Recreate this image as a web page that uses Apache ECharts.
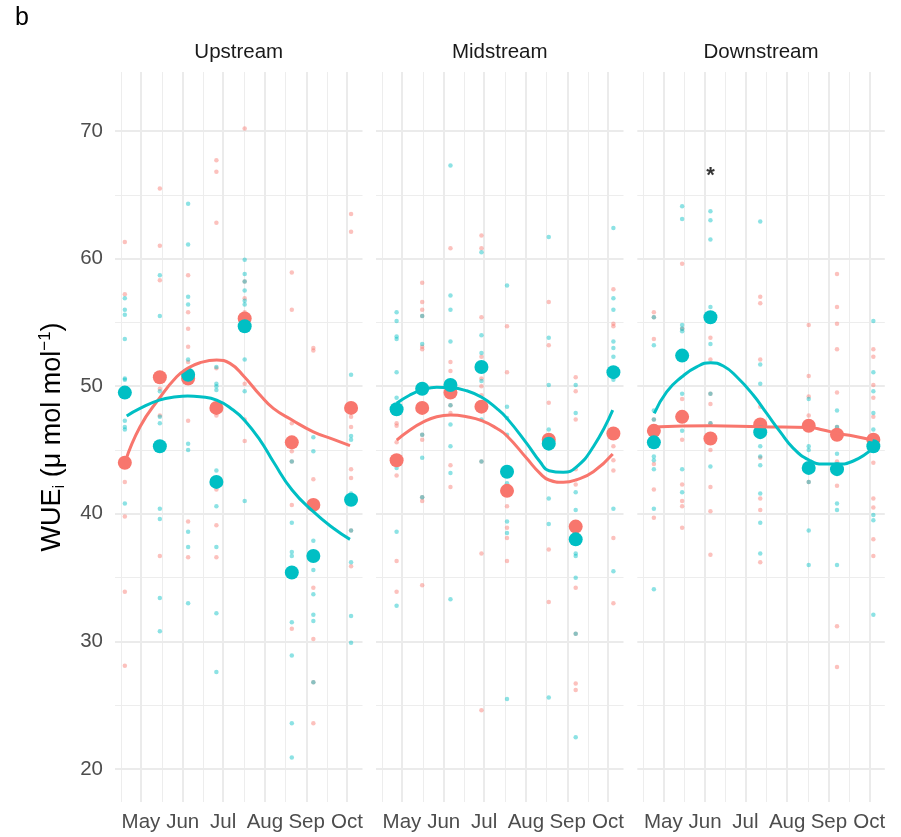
<!DOCTYPE html>
<html>
<head>
<meta charset="utf-8">
<script src="https://cdn.jsdelivr.net/npm/echarts@6/dist/echarts.min.js"></script>
<style>
html,body{margin:0;padding:0;background:#fff;}
#chart{width:901px;height:837px;}
</style>
</head>
<body>
<div id="chart"></div>
<script>
// ---------- axis / tick data (day of year) ----------
const monthTickDays = [121, 152, 182, 213, 244, 274];
const monthTickLabels = ['May', 'Jun', 'Jul', 'Aug', 'Sep', 'Oct'];
const minorTickDays = [106, 136.5, 167, 197.5, 228.5, 259];
const yTickValues = [20, 30, 40, 50, 60, 70];
const yMinorValues = [25, 35, 45, 55, 65];
const facetNames = ['Upstream', 'Midstream', 'Downstream'];
const panelLabel = 'b';

// ---------- Upstream ----------
const upDates = [109, 135, 156, 177, 198, 233, 249, 277];
const upMeanRed = [44.0, 50.7, 50.6, 48.3, 55.3, 45.6, 40.7, 48.3];
const upMeanTeal = [49.5, 45.3, 50.9, 42.5, 54.7, 35.4, 36.7, 41.1];
const upRawRed = [
  [61.3, 57.2, 42.5, 39.8, 33.9, 28.1],
  [65.5, 61.0, 58.3, 49.8, 47.7, 36.7],
  [58.7, 55.8, 54.5, 53.1, 51.9, 47.3, 39.4, 36.6],
  [67.7, 66.8, 62.8, 51.4, 47.7, 41.9, 39.1, 36.6],
  [70.2, 58.2, 56.9, 55.8, 50.2, 47.4, 45.7],
  [58.9, 56.0, 47.1, 44.9, 44.1, 40.7, 31.0],
  [53.0, 52.8, 42.7, 34.2, 30.2, 26.8, 23.6],
  [63.5, 62.1, 47.6, 46.8, 43.5, 42.8, 38.7, 35.9]
];
const upRawTeal = [
  [56.9, 56.0, 55.6, 53.7, 50.6, 50.5, 47.3, 46.8, 46.6, 40.8],
  [58.7, 55.5, 49.6, 47.6, 47.1, 40.4, 39.6, 33.4, 30.8],
  [64.3, 61.1, 57.0, 56.4, 52.1, 45.5, 45.0, 38.6, 37.4, 33.0],
  [51.5, 50.2, 50.0, 49.7, 43.4, 40.6, 37.4, 32.2, 27.6],
  [59.9, 58.8, 58.2, 57.5, 56.7, 56.4, 52.1, 49.6, 41.0],
  [44.1, 39.3, 37.0, 36.7, 31.5, 28.9, 23.6, 20.9],
  [46.0, 44.9, 37.9, 35.6, 33.7, 32.1, 31.6, 26.8],
  [50.9, 46.1, 45.8, 41.6, 38.7, 36.2, 32.0, 29.9]
];
const upFitRedDays = [109.3, 120.3, 134.6, 147.5, 155.7, 164.8, 177.2, 187.1, 197.7, 209.4, 219.3, 233.2, 249.0, 263.9, 276.2];
const upFitRed = [44.08, 46.82, 49.05, 50.74, 51.40, 51.84, 52.05, 51.79, 50.74, 49.31, 48.26, 47.35, 46.43, 45.84, 45.34];
const upFitTealDays = [110.4, 120.3, 134.6, 147.5, 155.7, 164.8, 177.2, 189.5, 197.7, 209.4, 219.3, 233.2, 249.0, 263.9, 276.2];
const upFitTeal = [47.67, 48.26, 48.91, 49.17, 49.23, 49.17, 48.91, 48.13, 47.35, 45.78, 44.08, 41.87, 40.17, 38.87, 38.0];

// ---------- Midstream ----------
const midDates = [117, 136, 157, 180, 199, 230, 250, 278];
const midMeanRed = [44.2, 48.3, 49.5, 48.4, 41.8, 45.8, 39.0, 46.3];
const midMeanTeal = [48.2, 49.8, 50.1, 51.5, 43.3, 45.5, 38.0, 51.1];
const midRawRed = [
  [47.1, 46.9, 45.6, 43.0, 36.3, 33.9],
  [58.1, 56.6, 56.0, 55.5, 53.1, 52.9, 46.2, 45.8, 41.3, 41.0, 34.4],
  [60.8, 51.9, 51.2, 48.5, 47.9, 43.8, 42.1],
  [61.8, 60.8, 55.4, 52.3, 50.6, 50.0, 49.3, 44.1, 36.9, 24.6],
  [54.7, 51.1, 40.6, 38.9, 38.1, 36.3],
  [56.6, 53.2, 48.7, 37.2, 33.1],
  [50.7, 49.6, 47.4, 43.5, 42.3, 34.2, 30.6, 26.7, 26.2],
  [57.6, 54.9, 54.7, 45.3, 44.2, 43.4, 38.1, 33.0]
];
const midRawTeal = [
  [55.8, 55.1, 53.9, 53.7, 51.1, 49.1, 43.6, 38.6, 32.8],
  [55.5, 53.3, 46.2, 44.4, 41.3],
  [67.3, 57.1, 56.0, 53.5, 48.5, 47.0, 45.3, 43.2, 33.3],
  [60.5, 54.0, 52.6, 50.4, 47.4, 44.1],
  [57.9, 48.4, 47.5, 46.2, 42.4, 39.4, 38.5, 25.5],
  [61.7, 53.8, 50.1, 46.6, 41.2, 39.2, 25.6],
  [50.1, 47.9, 41.7, 40.3, 36.9, 36.7, 35.0, 30.6, 22.5],
  [62.4, 56.9, 56.0, 53.5, 53.0, 52.3, 50.5, 40.4, 35.5]
];
const midFitDays = [117.1, 126.9, 135.9, 146.8, 157.2, 169.1, 180.2, 191.3, 199.0, 213.6, 223.5, 230.2, 240.8, 250.2, 263.1, 277.5];
const midFitRed = [45.78, 46.57, 47.14, 47.61, 47.74, 47.61, 47.30, 46.70, 46.10, 44.35, 43.17, 42.65, 42.47, 42.65, 43.30, 44.69];
const midFitTeal = [48.66, 49.31, 49.70, 49.91, 49.88, 49.64, 49.13, 48.26, 47.48, 45.52, 44.08, 43.38, 43.25, 43.64, 45.26, 48.13];

// ---------- Downstream ----------
const downDates = [114, 135, 156, 193, 229, 250, 277];
const downMeanRed = [46.5, 47.6, 45.9, 47.0, 46.9, 46.2, 45.8];
const downMeanTeal = [45.6, 52.4, 55.4, 46.4, 43.6, 43.5, 45.3];
const downRawRed = [
  [55.8, 55.4, 53.7, 47.4, 43.9, 41.9, 39.7],
  [59.6, 54.5, 49.0, 45.8, 42.3, 41.0, 40.6, 38.9],
  [53.8, 52.1, 49.4, 48.6, 47.1, 45.0, 42.1, 40.2, 36.8],
  [57.0, 56.5, 52.1, 48.4, 44.4, 41.2, 40.3, 36.2],
  [54.8, 50.8, 49.2, 47.7, 42.5],
  [58.8, 56.2, 54.9, 52.9, 49.5, 46.8, 44.1, 42.2, 31.2, 28.0],
  [52.9, 52.3, 50.1, 49.1, 47.6, 44.0, 41.2, 40.5, 38.0, 36.7]
];
const downRawTeal = [
  [55.4, 53.2, 48.1, 47.4, 44.5, 44.2, 43.5, 40.4, 34.1],
  [64.1, 63.1, 54.8, 54.5, 54.3, 49.4, 46.5, 43.5, 41.7],
  [63.7, 63.0, 61.5, 56.2, 53.3, 49.4, 47.1, 43.7],
  [62.9, 51.7, 50.2, 45.3, 44.5, 43.8, 41.6, 39.3, 36.9],
  [49.0, 45.3, 45.0, 42.5, 38.7, 36.0],
  [48.1, 46.8, 44.7, 40.8, 40.3, 36.0],
  [55.1, 51.1, 49.6, 47.9, 46.6, 39.9, 39.5, 32.1]
];
const downFitRedDays = [113.6, 134.9, 156.2, 193.3, 229.2, 239.8, 250.2, 262.1, 276.5];
const downFitRed = [46.80, 46.88, 46.90, 46.82, 46.77, 46.57, 46.30, 46.10, 45.78];
const downFitTealDays = [114.3, 123.5, 134.9, 145.8, 156.2, 165.6, 175.5, 187.8, 197.8, 207.7, 217.6, 229.2, 239.8, 250.2, 262.1, 276.5];
const downFitTeal = [47.87, 49.56, 50.74, 51.52, 51.84, 51.58, 50.74, 49.31, 47.87, 46.44, 45.13, 44.22, 43.90, 43.90, 44.14, 45.13];
const sigDays = [156];
const sigValues = [66.5];
const sigText = '*';

// ---------- build ----------
const RED = '#F8766D', TEAL = '#00BFC4';
const FONT = '"Liberation Sans", Arial, sans-serif';
const panels = [
  {dates: upDates, mR: upMeanRed, mT: upMeanTeal, rR: upRawRed, rT: upRawTeal,
   fRD: upFitRedDays, fR: upFitRed, fTD: upFitTealDays, fT: upFitTeal},
  {dates: midDates, mR: midMeanRed, mT: midMeanTeal, rR: midRawRed, rT: midRawTeal,
   fRD: midFitDays, fR: midFitRed, fTD: midFitDays, fT: midFitTeal},
  {dates: downDates, mR: downMeanRed, mT: downMeanTeal, rR: downRawRed, rT: downRawTeal,
   fRD: downFitRedDays, fR: downFitRed, fTD: downFitTealDays, fT: downFitTeal}
];
const gridLefts = [115, 376, 637.3];
const gridW = 247.5, gridTop = 72, gridH = 730;
const xMin = 101.7, xMax = 285.5, yMin = 17.42, yMax = 74.62;

const grids = [], xAxes = [], yAxes = [], series = [], graphics = [];
const MAJOR = {type: 'solid', width: 2, color: '#EBEBEB'};
const MINOR = {type: 'solid', width: 1, color: '#EDEDED'};
panels.forEach((p, i) => {
  grids.push({left: gridLefts[i], top: gridTop, width: gridW, height: gridH, containLabel: false});
  xAxes.push({
    type: 'value', gridIndex: i, min: xMin, max: xMax,
    axisLine: {show: false}, axisTick: {show: false}, splitLine: {show: false},
    axisLabel: {
      customValues: monthTickDays, margin: 10,
      formatter: v => monthTickLabels[monthTickDays.indexOf(v)] || '',
      color: '#4D4D4D', fontSize: 20.5, fontFamily: FONT
    }
  });
  const y = {
    type: 'value', gridIndex: i, min: yMin, max: yMax,
    axisLine: {show: false}, axisTick: {show: false}, splitLine: {show: false},
    axisLabel: {show: i === 0, customValues: yTickValues, margin: 12,
      color: '#4D4D4D', fontSize: 20.5, fontFamily: FONT}
  };
  if (i === 0) {
    y.name = '{a|WUE}{s|i}{a| (μ mol mol}{p|−1}{a|)}';
    y.nameLocation = 'middle';
    y.nameRotate = 90;
    y.nameGap = 47;
    y.nameTextStyle = {
      rich: {
        a: {fontSize: 27, color: '#000', fontFamily: FONT, lineHeight: 31},
        s: {fontSize: 17, color: '#000', fontFamily: FONT, verticalAlign: 'bottom', lineHeight: 17},
        p: {fontSize: 17, color: '#000', fontFamily: FONT, verticalAlign: 'top', lineHeight: 17}
      }
    };
  }
  yAxes.push(y);

  const lines = [];
  minorTickDays.forEach(v => lines.push({xAxis: v, lineStyle: MINOR}));
  yMinorValues.forEach(v => lines.push({yAxis: v, lineStyle: MINOR}));
  monthTickDays.forEach(v => lines.push({xAxis: v, lineStyle: MAJOR}));
  yTickValues.forEach(v => lines.push({yAxis: v, lineStyle: MAJOR}));

  const rawR = [], rawT = [];
  p.dates.forEach((d, g) => {
    p.rR[g].forEach(v => rawR.push([d, v]));
    p.rT[g].forEach(v => rawT.push([d, v]));
  });
  series.push({
    type: 'scatter', xAxisIndex: i, yAxisIndex: i, z: 2, silent: true,
    data: rawR, symbolSize: 4.5, itemStyle: {color: RED, opacity: 0.45},
    markLine: {silent: true, symbol: ['none', 'none'], z: 1, label: {show: false},
      lineStyle: {type: 'solid'}, emphasis: {disabled: true},
      animation: false, data: lines}
  });
  series.push({
    type: 'scatter', xAxisIndex: i, yAxisIndex: i, z: 2, silent: true,
    data: rawT, symbolSize: 4.5, itemStyle: {color: TEAL, opacity: 0.45}
  });
  series.push({
    type: 'scatter', xAxisIndex: i, yAxisIndex: i, z: 3, silent: true,
    data: p.dates.map((d, g) => [d, p.mR[g]]), symbolSize: 14, itemStyle: {color: RED, opacity: 1}
  });
  series.push({
    type: 'scatter', xAxisIndex: i, yAxisIndex: i, z: 3, silent: true,
    data: p.dates.map((d, g) => [d, p.mT[g]]), symbolSize: 14, itemStyle: {color: TEAL, opacity: 1}
  });
  series.push({
    type: 'line', xAxisIndex: i, yAxisIndex: i, z: 4, silent: true, smooth: 0.5,
    showSymbol: false, data: p.fRD.map((d, k) => [d, p.fR[k]]),
    lineStyle: {color: RED, width: 3}
  });
  series.push({
    type: 'line', xAxisIndex: i, yAxisIndex: i, z: 4, silent: true, smooth: 0.5,
    showSymbol: false, data: p.fTD.map((d, k) => [d, p.fT[k]]),
    lineStyle: {color: TEAL, width: 3}
  });

  graphics.push({
    type: 'text', x: gridLefts[i] + gridW / 2, y: 52,
    style: {text: facetNames[i], fill: '#1A1A1A', font: '20.5px ' + FONT,
      textAlign: 'center', textVerticalAlign: 'middle'}
  });
});

series.push({
  type: 'scatter', xAxisIndex: 2, yAxisIndex: 2, z: 5, silent: true,
  data: sigDays.map((d, k) => [d, sigValues[k]]), symbolSize: 0,
  label: {show: true, position: 'inside', formatter: sigText, color: '#000',
    fontSize: 22, fontWeight: 'bold', fontFamily: FONT}
});

graphics.push({
  type: 'text', x: 15, y: 18.5,
  style: {text: panelLabel, fill: '#000', font: '25px ' + FONT,
    textAlign: 'left', textVerticalAlign: 'middle'}
});

const chart = echarts.init(document.getElementById('chart'), null, {renderer: 'canvas'});
chart.setOption({
  animation: false,
  backgroundColor: '#fff',
  grid: grids, xAxis: xAxes, yAxis: yAxes, series: series, graphic: graphics
});
</script>
</body>
</html>
